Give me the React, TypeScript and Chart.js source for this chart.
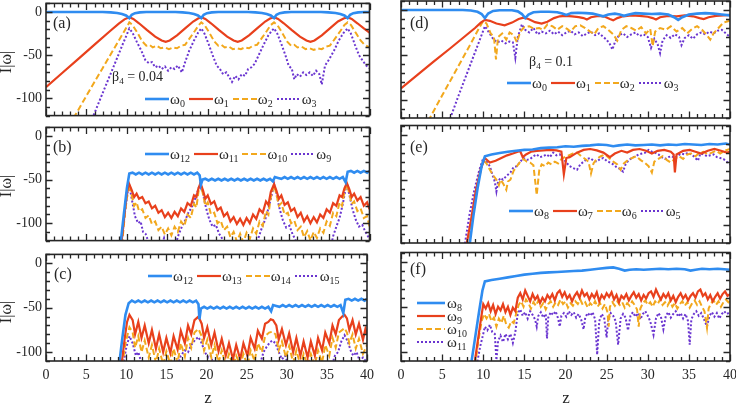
import React, { useEffect, useRef } from 'react';
import { Chart, registerables } from 'chart.js';
Chart.register(...registerables);

type Pt = [number, number];

// ---------- Panel (a): beta4 = 0.04, omega0..omega3 ----------
const a0: Pt[] = [[0,0],[7,0],[8,-0.4],[8.8,-1.2],[9.4,-2.3],[9.9,-4],[10.3,-7],[10.6,-3.2],[11,-1.3],[11.6,-0.4],[12.4,0],[16,0],[16.9,-0.4],[17.7,-1.2],[18.3,-2.3],[18.8,-4],[19.2,-7],[19.5,-3.2],[19.9,-1.3],[20.5,-0.4],[21.3,0],[25,0],[25.9,-0.4],[26.7,-1.2],[27.3,-2.3],[27.8,-4],[28.2,-7],[28.5,-3.2],[28.9,-1.3],[29.5,-0.4],[30.3,0],[34,0],[34.9,-0.4],[35.8,-1.2],[36.4,-2.3],[36.9,-4],[37.3,-7],[37.6,-3.2],[38,-1.3],[38.6,-0.4],[39.4,0],[40,0]];
const a1: Pt[] = [[0,-87],[2,-70.6],[4,-54.2],[6,-37.8],[8,-21.4],[9,-13.5],[9.7,-8.5],[10.3,-6],[10.8,-8],[11.5,-13],[12.5,-21],[13.5,-28.5],[14.3,-33],[14.8,-34.5],[15.3,-33],[16.2,-27],[17.2,-19],[18.2,-11],[18.8,-7.5],[19.2,-6],[19.7,-8],[20.4,-13],[21.4,-21],[22.4,-28.5],[23.2,-33],[23.7,-34.5],[24.2,-33],[25.1,-27],[26.1,-19],[27.1,-11],[27.7,-7.5],[28.2,-6],[28.7,-8],[29.4,-13],[30.4,-21],[31.4,-28.5],[32.2,-33],[32.7,-34.5],[33.2,-33],[34.1,-27],[35.1,-19],[36.1,-11],[36.8,-7.5],[37.3,-6],[37.8,-8],[38.5,-13],[39.3,-19],[40,-24]];
const a2: Pt[] = [[3.4,-123],[5,-97],[7,-65],[8.5,-41],[9.5,-25],[10,-17],[10.3,-12],[10.7,-15],[11.3,-24],[11.9,-34],[12.4,-39],[12.8,-38],[13.2,-41],[13.7,-39],[14.2,-42],[14.7,-41],[15.2,-43],[15.7,-41],[16.2,-42],[16.7,-39],[17.2,-38],[17.8,-30],[18.4,-22],[18.9,-15],[19.2,-12],[19.6,-15],[20.2,-24],[20.8,-34],[21.3,-39],[21.7,-38],[22.1,-41],[22.6,-40],[23.1,-43],[23.6,-42],[24.1,-43],[24.6,-41],[25.1,-42],[25.6,-39],[26.1,-38],[26.7,-30],[27.3,-22],[27.8,-15],[28.2,-12],[28.6,-15],[29.2,-24],[29.8,-34],[30.3,-39],[30.7,-38],[31.1,-41],[31.6,-40],[32.1,-43],[32.6,-42],[33.1,-44],[33.6,-42],[34.1,-43],[34.6,-40],[35.1,-39],[35.8,-30],[36.4,-22],[36.9,-15],[37.3,-12],[37.7,-15],[38.3,-24],[38.9,-33],[39.4,-38],[40,-41]];
const a3: Pt[] = [[5.7,-124],[7,-94],[8.5,-60],[9.5,-37],[10,-26],[10.3,-19],[10.7,-24],[11.2,-34],[11.8,-45],[12.3,-56],[12.7,-59],[13.1,-58],[13.5,-64],[13.9,-62],[14.3,-66],[14.7,-63],[15.1,-68],[15.5,-64],[15.9,-66],[16.3,-62],[16.8,-70],[17.2,-58],[17.7,-45],[18.3,-33],[18.8,-24],[19.2,-19],[19.6,-25],[20.1,-37],[20.6,-50],[21.1,-62],[21.5,-66],[21.9,-72],[22.3,-70],[22.7,-76],[23,-81],[23.4,-74],[23.8,-78],[24.2,-72],[24.6,-74],[25,-66],[25.4,-64],[25.8,-60],[26.3,-50],[26.9,-38],[27.5,-27],[27.9,-22],[28.2,-19],[28.6,-25],[29.1,-37],[29.6,-50],[30,-62],[30.4,-66],[30.7,-78],[31,-72],[31.4,-75],[31.8,-70],[32.2,-73],[32.6,-70],[33,-74],[33.4,-68],[33.8,-72],[34.1,-84],[34.5,-62],[35,-55],[35.6,-45],[36.2,-33],[36.8,-24],[37.3,-19],[37.7,-25],[38.2,-38],[38.7,-50],[39.2,-57],[39.6,-62],[40,-65]];

// ---------- Panel (b): omega12, omega11, omega10, omega9 ----------
const b0: Pt[] = [[9.2,-125],[9.6,-92],[10,-60],[10.3,-43],[10.7,-42],[11.1,-44],[11.5,-42],[11.9,-44],[12.3,-42],[12.7,-44],[13.1,-42],[13.5,-44],[13.9,-42],[14.3,-44],[14.7,-42],[15.1,-44],[15.5,-42],[15.9,-44],[16.3,-42],[16.7,-44],[17.1,-42],[17.5,-44],[17.9,-42],[18.3,-44],[18.7,-42],[19,-45],[19.15,-56],[19.35,-50],[19.7,-49],[20.1,-51],[20.5,-49],[20.9,-51],[21.3,-49],[21.7,-51],[22.1,-49],[22.5,-51],[22.9,-49],[23.3,-51],[23.7,-49],[24.1,-51],[24.5,-49],[24.9,-51],[25.3,-49],[25.7,-51],[26.1,-49],[26.5,-51],[26.9,-49],[27.3,-51],[27.7,-49],[28.05,-52],[28.3,-47],[28.7,-48],[29.1,-49],[29.5,-47],[29.9,-49],[30.3,-47],[30.7,-49],[31.1,-47],[31.5,-49],[31.9,-47],[32.3,-49],[32.7,-47],[33.1,-49],[33.5,-47],[33.9,-49],[34.3,-47],[34.7,-49],[35.1,-47],[35.5,-49],[35.9,-47],[36.3,-49],[36.7,-47],[37.05,-53],[37.3,-41],[37.7,-40],[38.1,-42],[38.5,-40],[38.9,-42],[39.3,-40],[39.7,-42],[40,-40]];
const b1: Pt[] = [[9.3,-125],[9.7,-90],[10,-65],[10.25,-54],[10.6,-62],[10.9,-70],[11.2,-66],[11.5,-72],[11.9,-70],[12.3,-77],[12.7,-75],[13.1,-83],[13.5,-80],[13.9,-88],[14.3,-85],[14.7,-93],[15.1,-88],[15.5,-94],[15.9,-87],[16.3,-92],[16.7,-83],[17.1,-87],[17.5,-77],[17.9,-80],[18.3,-68],[18.6,-70],[18.85,-60],[19.1,-54],[19.4,-62],[19.7,-72],[20,-68],[20.4,-78],[20.8,-75],[21.2,-85],[21.6,-82],[22,-92],[22.4,-88],[22.8,-98],[23.2,-93],[23.6,-101],[24,-95],[24.4,-102],[24.8,-94],[25.2,-100],[25.6,-90],[26,-95],[26.4,-84],[26.8,-88],[27.2,-75],[27.5,-79],[27.8,-64],[28.2,-55],[28.5,-63],[28.8,-72],[29.1,-68],[29.5,-79],[29.9,-76],[30.3,-86],[30.7,-83],[31.1,-93],[31.5,-88],[31.9,-98],[32.3,-92],[32.7,-100],[33.1,-93],[33.5,-99],[33.9,-90],[34.3,-94],[34.7,-84],[35.1,-88],[35.5,-77],[35.9,-80],[36.3,-68],[36.6,-70],[36.9,-60],[37.2,-54],[37.5,-61],[37.8,-70],[38.1,-66],[38.5,-74],[38.9,-70],[39.3,-80],[39.7,-76],[40,-84]];
const b2: Pt[] = [[9.4,-125],[9.8,-85],[10.25,-55],[10.6,-68],[10.9,-80],[11.2,-76],[11.5,-86],[11.9,-84],[12.3,-94],[12.7,-91],[13.1,-101],[13.5,-98],[13.9,-108],[14.3,-104],[14.7,-113],[15.1,-106],[15.5,-114],[15.9,-104],[16.3,-110],[16.7,-98],[17.1,-103],[17.5,-90],[17.9,-94],[18.3,-78],[18.6,-82],[18.85,-64],[19.1,-55],[19.4,-66],[19.7,-80],[20,-76],[20.4,-90],[20.8,-88],[21.2,-100],[21.6,-97],[22,-108],[22.4,-104],[22.8,-116],[23.2,-110],[23.6,-121],[24,-112],[24.4,-122],[24.8,-111],[25.2,-118],[25.6,-106],[26,-112],[26.4,-98],[26.8,-103],[27.2,-86],[27.5,-90],[27.8,-70],[28.2,-56],[28.5,-67],[28.8,-80],[29.1,-77],[29.5,-90],[29.9,-88],[30.3,-100],[30.7,-97],[31.1,-108],[31.5,-104],[31.9,-116],[32.3,-109],[32.7,-120],[33.1,-110],[33.5,-117],[33.9,-106],[34.3,-111],[34.7,-98],[35.1,-103],[35.5,-88],[35.9,-92],[36.3,-76],[36.6,-80],[36.9,-64],[37.2,-55],[37.5,-66],[37.8,-78],[38.1,-75],[38.5,-86],[38.9,-83],[39.3,-94],[39.7,-92],[40,-104]];
const b3: Pt[] = [[9.3,-125],[9.8,-85],[10.25,-54],[10.6,-72],[11,-92],[11.4,-100],[11.7,-98],[12,-110],[12.3,-112],[12.7,-122],[13,-128],[14.3,-125],[14.6,-117],[14.9,-126],[16,-125],[16.4,-113],[16.8,-104],[17.2,-97],[17.6,-88],[18,-82],[18.4,-73],[18.8,-62],[19.1,-54],[19.4,-66],[19.8,-83],[20.2,-96],[20.6,-104],[21,-102],[21.4,-112],[21.8,-118],[22.2,-128],[26,-128],[26.3,-116],[26.7,-105],[27.1,-96],[27.5,-83],[27.9,-68],[28.2,-55],[28.5,-67],[28.9,-84],[29.3,-97],[29.7,-105],[30.1,-103],[30.5,-113],[30.9,-120],[31.3,-128],[35.2,-128],[35.5,-115],[35.9,-104],[36.3,-94],[36.7,-78],[37,-63],[37.2,-54],[37.5,-67],[37.9,-84],[38.3,-96],[38.7,-104],[39.1,-102],[39.5,-110],[40,-118]];

// ---------- Panel (c): omega12, omega13, omega14, omega15 ----------
const c0: Pt[] = [[9.1,-115],[9.5,-85],[9.9,-58],[10.3,-45],[10.7,-42],[11.1,-44],[11.5,-42],[11.9,-44],[12.3,-42],[12.7,-44],[13.1,-42],[13.5,-44],[13.9,-42],[14.3,-44],[14.7,-42],[15.1,-44],[15.5,-42],[15.9,-44],[16.3,-42],[16.7,-44],[17.1,-42],[17.5,-44],[17.9,-42],[18.3,-44],[18.7,-42],[19,-46],[19.12,-63],[19.3,-51],[19.7,-49],[20.1,-51],[20.5,-49],[20.9,-51],[21.3,-49],[21.7,-51],[22.1,-49],[22.5,-51],[22.9,-49],[23.3,-51],[23.7,-49],[24.1,-51],[24.5,-49],[24.9,-51],[25.3,-49],[25.7,-51],[26.1,-49],[26.5,-51],[26.9,-49],[27.3,-51],[27.7,-49],[28.05,-54],[28.3,-47],[28.7,-48],[29.1,-49],[29.5,-47],[29.9,-49],[30.3,-47],[30.7,-49],[31.1,-47],[31.5,-49],[31.9,-47],[32.3,-49],[32.7,-47],[33.1,-49],[33.5,-47],[33.9,-49],[34.3,-47],[34.7,-49],[35.1,-47],[35.5,-49],[35.9,-47],[36.3,-49],[36.7,-47],[37.05,-56],[37.3,-41],[37.7,-40],[38.1,-42],[38.5,-40],[38.9,-42],[39.3,-40],[39.7,-42],[40,-40]];
const c1: Pt[] = [[9.4,-115],[9.8,-85],[10.1,-66],[10.4,-58],[10.8,-64],[11.1,-80],[11.5,-66],[11.9,-84],[12.3,-70],[12.8,-90],[13.2,-75],[13.7,-96],[14.1,-80],[14.6,-100],[15,-84],[15.5,-101],[15.9,-82],[16.4,-97],[16.8,-76],[17.3,-90],[17.7,-70],[18.1,-80],[18.5,-64],[19,-60],[19.4,-68],[19.7,-84],[20.1,-72],[20.6,-92],[21,-78],[21.5,-99],[21.9,-85],[22.4,-104],[22.8,-90],[23.3,-108],[23.7,-92],[24.2,-108],[24.6,-90],[25.1,-104],[25.5,-84],[26,-96],[26.4,-76],[26.9,-85],[27.3,-68],[27.7,-66],[28,-63],[28.3,-64],[28.7,-70],[29,-86],[29.4,-74],[29.9,-92],[30.3,-79],[30.8,-100],[31.2,-84],[31.7,-104],[32.1,-88],[32.6,-106],[33,-88],[33.5,-104],[33.9,-84],[34.4,-98],[34.8,-78],[35.3,-90],[35.7,-70],[36.1,-80],[36.5,-64],[36.9,-60],[37.2,-58],[37.5,-62],[37.8,-75],[38.2,-64],[38.6,-80],[39,-68],[39.5,-86],[39.8,-74],[40,-80]];
const c2: Pt[] = [[9.5,-115],[9.9,-90],[10.4,-72],[10.8,-78],[11.1,-95],[11.5,-82],[11.9,-100],[12.3,-87],[12.8,-106],[13.2,-92],[13.7,-112],[14.1,-96],[14.6,-114],[15,-99],[15.5,-114],[15.9,-96],[16.4,-112],[16.8,-90],[17.3,-105],[17.7,-84],[18.1,-95],[18.5,-78],[19,-74],[19.4,-82],[19.7,-98],[20.1,-86],[20.6,-106],[21,-92],[21.5,-112],[21.9,-98],[22.4,-115],[22.8,-102],[23.3,-115],[23.7,-104],[24.2,-115],[24.6,-102],[25.1,-115],[25.5,-98],[26,-110],[26.4,-90],[26.9,-100],[27.3,-82],[27.8,-78],[28.2,-77],[28.6,-80],[29,-98],[29.4,-88],[29.9,-106],[30.3,-93],[30.8,-112],[31.2,-98],[31.7,-115],[32.1,-102],[32.6,-115],[33,-102],[33.5,-115],[33.9,-98],[34.4,-112],[34.8,-92],[35.3,-104],[35.7,-84],[36.1,-95],[36.5,-78],[37.2,-73],[37.5,-78],[37.8,-90],[38.2,-80],[38.6,-96],[39,-85],[39.5,-102],[40,-92]];
const c3: Pt[] = [[9.6,-115],[10,-95],[10.4,-82],[10.8,-90],[11.2,-104],[11.5,-100],[11.9,-112],[12.2,-118],[16.3,-118],[16.8,-104],[17.3,-98],[17.7,-100],[18.1,-92],[18.6,-86],[19,-83],[19.4,-90],[19.8,-100],[20.2,-106],[20.5,-104],[21,-116],[26.6,-116],[27.1,-100],[27.5,-94],[27.9,-89],[28.2,-87],[28.6,-90],[29,-100],[29.4,-108],[29.8,-104],[30.2,-115],[35.6,-116],[36,-104],[36.4,-100],[36.8,-88],[37.2,-81],[37.6,-88],[38,-99],[38.3,-104],[38.7,-100],[39.1,-110],[39.5,-106],[40,-112]];

// ---------- Panel (d): beta4 = 0.1, omega0..omega3 ----------
const d0: Pt[] = [[0,0],[7.5,0],[8.5,-0.5],[9.3,-2],[9.8,-4.5],[10.2,-9],[10.6,-4],[11.2,-1],[12,-0.3],[13.5,-0.3],[14.2,-1.5],[14.7,-4.5],[15.1,-9],[15.5,-5],[16.1,-2.5],[17,-2],[18,-2],[19,-2.5],[19.6,-4],[20.1,-5.5],[20.7,-3.5],[21.5,-3],[22.5,-3.5],[23.3,-4],[24,-5.5],[24.6,-7],[25.2,-5],[26,-4],[26.6,-5],[27.1,-6.5],[27.7,-5],[28.5,-3.5],[29.5,-4],[30.5,-4.5],[31.5,-4],[32.5,-5],[33.2,-8],[33.7,-11],[34.2,-8],[35,-5],[36,-4],[37,-3.5],[38,-4],[39,-5],[40,-6]];
const d1: Pt[] = [[0,-87],[2,-72],[4,-57],[6,-42.5],[8,-27.5],[9,-20],[9.7,-14],[10.2,-11],[10.8,-12],[11.6,-15],[12.6,-17],[13.5,-14],[14.3,-10],[14.9,-8.5],[15.5,-10],[16.3,-13.5],[17.1,-15],[17.8,-13],[18.6,-9],[19.3,-7],[20,-6.5],[20.8,-7],[21.6,-8],[22.2,-9],[22.6,-10.5],[23.1,-8],[24,-6.5],[24.8,-7.5],[25.4,-10],[25.8,-11.5],[26.3,-9],[27,-7],[28,-6],[29,-6.5],[30,-7.5],[30.6,-9],[31,-10.5],[31.5,-8],[32.5,-6.5],[33.5,-7],[34.5,-6],[35.5,-7],[36.3,-9],[36.8,-10],[37.4,-8],[38.3,-6.5],[39.2,-6],[40,-5.5]];
const d2: Pt[] = [[3.3,-123.5],[5,-95],[7,-62],[8.5,-37],[9.5,-20],[10,-12],[10.4,-15],[10.9,-26],[11.3,-30],[11.55,-55],[11.8,-30],[12.3,-26],[12.8,-33],[13.2,-25],[13.7,-28],[14.1,-36],[14.5,-24],[15,-19],[15.6,-18],[16.2,-21],[16.8,-20],[17.3,-22],[17.8,-16],[18.4,-18],[19,-22],[19.6,-18],[20.2,-21],[20.6,-24],[21.2,-18],[21.8,-17],[22.4,-20],[23,-24],[23.5,-27],[24,-20],[24.6,-18],[25.2,-22],[25.8,-27],[26.3,-34],[26.8,-22],[27.4,-18],[28,-20],[28.6,-23],[29.2,-19],[29.8,-26],[30.3,-21],[30.6,-40],[30.9,-24],[31.5,-20],[32.2,-22],[32.8,-18],[33.5,-24],[34.2,-20],[34.8,-26],[35.4,-21],[36,-18],[36.6,-22],[37.2,-28],[37.6,-33],[38,-26],[38.6,-20],[39.2,-14],[40,-12]];
const d3: Pt[] = [[5.8,-125],[7,-95],[8.5,-59],[9.5,-35],[10.2,-18],[10.7,-25],[11.2,-32],[11.7,-36],[12.2,-34],[12.7,-37],[13.2,-35],[13.6,-36],[13.9,-53],[14.2,-30],[14.7,-16],[15.1,-22],[15.6,-25],[16.1,-20],[16.6,-27],[17.1,-24],[17.6,-26],[18.1,-23],[18.6,-27],[19.1,-24],[19.6,-28],[20.1,-25],[20.6,-23],[21.1,-27],[21.6,-25],[22.1,-29],[22.6,-26],[23.1,-24],[23.6,-28],[24.1,-26],[24.6,-30],[25,-33],[25.4,-38],[25.7,-44],[26,-36],[26.5,-28],[27,-26],[27.5,-30],[28,-27],[28.5,-25],[29,-29],[29.5,-27],[30,-30],[30.4,-42],[30.8,-32],[31.2,-38],[31.5,-48],[31.8,-34],[32.3,-28],[32.8,-31],[33.3,-27],[33.8,-30],[34.1,-39],[34.5,-31],[35,-28],[35.5,-32],[36,-27],[36.5,-25],[37,-27],[37.5,-24],[38,-26],[38.5,-23],[39,-22],[39.5,-26],[40,-30]];

// ---------- Panel (e): omega8, omega7, omega6, omega5 ----------
const e0: Pt[] = [[8.3,-125],[8.8,-90],[9.3,-60],[9.8,-35],[10.2,-24],[11,-22],[12,-20.5],[13,-19],[14,-18],[15,-17],[16,-16.5],[17,-15],[18,-14.5],[19,-14],[20,-13],[21,-13.5],[22,-12.5],[23,-12],[24,-11],[25,-11.5],[25.8,-13],[26.5,-12],[27.5,-11],[28.5,-12],[29.5,-11.5],[30.5,-11],[31.5,-12],[32.5,-11],[33.5,-11.5],[34.5,-10.5],[35.5,-11],[36.5,-11.5],[37.5,-10.5],[38.5,-11],[39.5,-10],[40,-11]];
const e1: Pt[] = [[7.9,-125],[8.5,-95],[9.1,-62],[9.7,-38],[10.2,-26],[10.8,-31],[11.5,-29],[12.2,-26],[12.9,-23],[13.6,-21],[14.2,-19],[14.5,-18.5],[14.8,-25],[15.2,-22],[15.8,-19],[16.5,-18],[17.3,-17.5],[18.1,-17],[18.9,-17.5],[19.5,-19],[19.8,-44],[20.1,-26],[20.5,-25],[21.4,-20],[22.2,-17],[23,-16],[23.8,-17.5],[24.6,-20],[25.4,-25],[26,-21],[26.8,-18],[27.5,-20],[28.2,-17],[29,-16],[29.8,-18],[30.5,-21],[31.2,-18],[32,-17],[32.8,-19],[33.15,-22],[33.3,-42],[33.5,-22],[34.3,-18],[35.1,-17],[35.8,-19],[36.5,-21],[37.3,-18],[38.1,-16],[38.9,-18],[39.6,-20],[40,-19]];
const e2: Pt[] = [[8.2,-125],[8.8,-85],[9.4,-52],[10,-28],[10.4,-32],[10.8,-39],[11.2,-45],[11.6,-50],[11.9,-56],[12.1,-50],[12.4,-54],[12.8,-61],[13,-52],[13.3,-50],[13.7,-40],[14.1,-35],[14.5,-30],[14.9,-27],[15.3,-30],[15.7,-31],[16.1,-34],[16.5,-67],[16.8,-40],[17.1,-33],[17.5,-35],[17.9,-31],[18.3,-33],[18.7,-30],[19.1,-32],[19.5,-27],[19.9,-25],[20.4,-23],[20.9,-21],[21.4,-20],[21.9,-24],[22.4,-27],[22.8,-30],[23.1,-43],[23.4,-32],[23.8,-27],[24.3,-24],[24.8,-22],[25.3,-26],[25.8,-30],[26.3,-33],[26.7,-39],[27.1,-32],[27.6,-28],[28.1,-26],[28.6,-24],[29.1,-28],[29.6,-31],[30.1,-35],[30.5,-42],[30.8,-30],[31.3,-27],[31.8,-24],[32.3,-28],[32.8,-31],[33.3,-27],[33.8,-24],[34.3,-27],[34.8,-22],[35.3,-21],[35.8,-24],[36.3,-20],[36.8,-19],[37.3,-22],[37.8,-20],[38.3,-18],[38.8,-21],[39.3,-18],[40,-16]];
const e3: Pt[] = [[7.7,-125],[8.3,-90],[8.9,-62],[9.5,-40],[10,-26],[10.4,-30],[10.8,-35],[11.1,-44],[11.4,-52],[11.6,-63],[11.8,-52],[12.1,-48],[12.4,-50],[12.8,-46],[13.3,-42],[13.7,-36],[14.1,-35],[14.5,-30],[14.9,-26],[15.3,-28],[15.7,-27],[16.1,-24],[16.5,-22],[16.9,-25],[17.3,-24],[17.7,-22],[18.1,-25],[18.5,-20],[18.9,-23],[19.3,-22],[19.7,-26],[20.1,-31],[20.5,-35],[20.9,-37],[21.4,-39],[21.8,-33],[22.2,-30],[22.6,-27],[23,-26],[23.4,-29],[23.8,-30],[24.2,-27],[24.6,-26],[25,-29],[25.4,-31],[25.8,-33],[26.2,-36],[26.6,-38],[27,-41],[27.3,-33],[27.7,-28],[28.1,-26],[28.5,-24],[28.9,-22],[29.3,-21],[29.7,-20],[30.1,-17],[30.5,-19],[30.9,-20],[31.3,-22],[31.7,-25],[32.1,-27],[32.5,-25],[32.9,-24],[33.3,-26],[33.7,-23],[34.1,-21],[34.5,-22],[34.9,-20],[35.3,-22],[35.7,-25],[36.1,-29],[36.4,-21],[36.8,-22],[37.2,-24],[37.6,-23],[38,-22],[38.4,-25],[38.8,-26],[39.2,-27],[39.6,-30],[40,-33]];

// ---------- Panel (f): omega8, omega9, omega10, omega11 ----------
const f0: Pt[] = [[8.5,-115],[9,-85],[9.5,-55],[9.9,-32],[10.2,-22],[11,-20.5],[12,-19],[13,-17.5],[14,-16],[15,-14.5],[16,-13.5],[17,-12.5],[18,-12],[19,-11.5],[20,-11],[21,-10.5],[22,-10],[23,-9],[24,-8],[25,-7],[25.8,-6.5],[26.5,-8],[27.2,-10],[27.8,-9],[28.6,-8.5],[29.5,-9],[30.5,-8.5],[31.5,-8],[32.5,-8.5],[33.5,-8],[34.5,-8.5],[35.2,-10],[35.8,-9],[36.6,-8],[37.5,-8.5],[38.5,-8],[39.3,-8.5],[40,-9]];
const f1: Pt[] = [[8.9,-115],[9.3,-90],[9.7,-65],[10,-47],[10.3,-52],[10.6,-46],[10.9,-55],[11.2,-48],[11.5,-58],[11.8,-50],[12.1,-54],[12.4,-47],[12.7,-56],[13,-50],[13.3,-59],[13.6,-51],[13.9,-55],[14.2,-40],[14.5,-35],[14.8,-42],[15.1,-32],[15.4,-38],[15.7,-44],[16,-36],[16.3,-42],[16.6,-38],[16.9,-46],[17.2,-40],[17.5,-44],[17.8,-37],[18.1,-41],[18.4,-36],[18.7,-43],[19,-35],[19.3,-32],[19.6,-39],[19.9,-34],[20.2,-41],[20.5,-37],[20.8,-44],[21.1,-38],[21.4,-34],[21.7,-40],[22,-32],[22.3,-38],[22.6,-35],[22.9,-42],[23.2,-36],[23.5,-40],[23.8,-34],[24.1,-44],[24.4,-37],[24.7,-41],[25,-35],[25.3,-39],[25.6,-34],[25.9,-42],[26.2,-37],[26.5,-45],[26.8,-38],[27.1,-41],[27.4,-36],[27.7,-43],[28,-38],[28.3,-34],[28.6,-40],[28.9,-36],[29.2,-43],[29.5,-37],[29.8,-41],[30.1,-35],[30.4,-33],[30.7,-39],[31,-31],[31.3,-37],[31.6,-42],[31.9,-36],[32.2,-40],[32.5,-35],[32.8,-43],[33.1,-38],[33.4,-45],[33.7,-39],[34,-35],[34.3,-41],[34.6,-37],[34.9,-43],[35.2,-38],[35.5,-35],[35.8,-40],[36.1,-33],[36.4,-31],[36.7,-38],[37,-35],[37.3,-42],[37.6,-37],[37.9,-44],[38.2,-39],[38.5,-35],[38.8,-41],[39.1,-36],[39.4,-33],[39.7,-38],[40,-36]];
const f2: Pt[] = [[9,-115],[9.4,-88],[9.8,-66],[10.1,-58],[10.4,-63],[10.7,-58],[11,-66],[11.3,-62],[11.6,-72],[11.9,-63],[12.2,-68],[12.5,-60],[12.8,-70],[13.1,-73],[13.4,-66],[13.7,-68],[14,-58],[14.3,-48],[14.6,-44],[14.9,-50],[15.2,-42],[15.5,-46],[15.8,-52],[16.1,-45],[16.4,-49],[16.7,-43],[17,-50],[17.3,-46],[17.6,-53],[17.9,-47],[18.2,-44],[18.5,-50],[18.8,-45],[19.1,-48],[19.4,-42],[19.7,-47],[20,-44],[20.3,-51],[20.6,-46],[20.9,-49],[21.2,-44],[21.5,-47],[21.8,-42],[22.1,-48],[22.4,-45],[22.7,-51],[23,-46],[23.3,-49],[23.6,-44],[23.9,-50],[24.2,-46],[24.5,-52],[24.8,-47],[25.1,-56],[25.25,-72],[25.4,-50],[25.7,-45],[26,-49],[26.3,-44],[26.6,-48],[26.9,-45],[27.2,-51],[27.5,-46],[27.8,-49],[28.1,-44],[28.4,-48],[28.7,-53],[28.9,-72],[29.1,-52],[29.4,-46],[29.7,-43],[30,-48],[30.3,-45],[30.6,-50],[30.9,-44],[31.2,-47],[31.5,-42],[31.8,-48],[32.1,-45],[32.4,-49],[32.7,-44],[33,-50],[33.3,-46],[33.6,-52],[33.9,-47],[34.2,-44],[34.5,-49],[34.8,-45],[35.1,-51],[35.4,-46],[35.7,-43],[36,-48],[36.3,-44],[36.6,-50],[36.9,-55],[37.2,-73],[37.4,-52],[37.7,-46],[38,-43],[38.3,-48],[38.6,-44],[38.9,-50],[39.2,-45],[39.5,-42],[39.8,-45],[40,-43]];
const f3: Pt[] = [[9.2,-115],[9.6,-95],[10,-80],[10.2,-72],[10.5,-76],[10.8,-70],[11.1,-78],[11.4,-80],[11.6,-109],[11.8,-88],[12.1,-82],[12.4,-89],[12.7,-80],[13,-86],[13.3,-80],[13.6,-90],[13.9,-78],[14.2,-57],[14.5,-53],[14.8,-60],[15.1,-56],[15.4,-63],[15.7,-55],[16,-59],[16.3,-64],[16.5,-72],[16.7,-60],[17,-56],[17.3,-62],[17.6,-58],[17.75,-85],[17.9,-62],[18.2,-56],[18.5,-59],[18.8,-55],[19.1,-63],[19.3,-72],[19.5,-60],[19.8,-57],[20.1,-61],[20.4,-55],[20.7,-59],[21,-56],[21.3,-62],[21.6,-58],[21.9,-64],[22.2,-75],[22.4,-62],[22.7,-57],[23,-60],[23.3,-56],[23.6,-64],[23.85,-103],[24.1,-66],[24.4,-58],[24.7,-62],[25,-84],[25.2,-64],[25.5,-57],[25.8,-60],[26.1,-66],[26.4,-92],[26.7,-63],[27,-58],[27.3,-62],[27.6,-76],[27.9,-60],[28.2,-56],[28.5,-61],[28.8,-57],[29.1,-64],[29.4,-58],[29.7,-55],[30,-60],[30.3,-66],[30.7,-81],[31,-63],[31.3,-57],[31.6,-61],[31.9,-75],[32.2,-60],[32.5,-56],[32.8,-62],[33.1,-58],[33.4,-55],[33.7,-61],[34,-57],[34.3,-63],[34.6,-58],[34.9,-66],[35.1,-92],[35.3,-64],[35.6,-58],[35.9,-55],[36.2,-60],[36.5,-57],[36.8,-63],[37.2,-72],[37.5,-60],[37.8,-56],[38.1,-61],[38.4,-57],[38.7,-63],[39,-58],[39.3,-55],[39.6,-58],[40,-56]];

// ---------- labels ----------
const xTickLabels = [0, 5, 10, 15, 20, 25, 30, 35, 40];
const yTickLabels = [0, -50, -100];
const legendA = ['0', '1', '2', '3'];
const legendB = ['12', '11', '10', '9'];
const legendC = ['12', '13', '14', '15'];
const legendD = ['0', '1', '2', '3'];
const legendE = ['8', '7', '6', '5'];
const legendF = ['8', '9', '10', '11'];

const FONT = "'Liberation Serif', 'Times New Roman', serif";
const INK = '#262626';
const BLUE = '#2f8cf0';
const RED = '#e8401c';
const ORANGE = '#f2a81d';
const PURPLE = '#6a35d0';
const STYLES = [
  { color: BLUE, width: 2.6, dash: [] as number[] },
  { color: RED, width: 2.2, dash: [] as number[] },
  { color: ORANGE, width: 2.0, dash: [6, 3] },
  { color: PURPLE, width: 2.0, dash: [2, 2] },
];

const frameTicks = {
  id: 'frameTicks',
  afterDraw(chart: any) {
    const ctx = chart.ctx;
    const area = chart.chartArea;
    const left = area.left, right = area.right, top = area.top, bottom = area.bottom;
    const xs = chart.scales['x'];
    const ys = chart.scales['y'];
    if (!xs || !ys) return;
    ctx.save();
    ctx.setLineDash([]);
    ctx.strokeStyle = INK;
    ctx.lineWidth = 1.3;
    ctx.beginPath();
    for (let v = 0; v <= 40; v += 1) {
      const px = Math.round(xs.getPixelForValue(v)) + 0.5;
      const len = v % 5 === 0 ? 6.5 : 4;
      ctx.moveTo(px, bottom); ctx.lineTo(px, bottom - len);
      ctx.moveTo(px, top); ctx.lineTo(px, top + len);
    }
    const ymin = ys.min, ymax = ys.max;
    for (let v = Math.ceil(ymin / 10) * 10; v <= ymax; v += 10) {
      const py = Math.round(ys.getPixelForValue(v)) + 0.5;
      const len = v % 50 === 0 ? 6.5 : 4;
      ctx.moveTo(left, py); ctx.lineTo(left + len, py);
      ctx.moveTo(right, py); ctx.lineTo(right - len, py);
    }
    ctx.stroke();
    ctx.lineWidth = 1.6;
    ctx.strokeRect(left, top, right - left, bottom - top);
    ctx.restore();
  },
};
Chart.register(frameTicks as any);

type PanelCfg = {
  series: Pt[][];
  ymin: number;
  ymax: number;
  cl: number; ct: number; cw: number; ch: number;
  pad: { left: number; right: number; top: number; bottom: number };
  yLabels: boolean;
  xLabels: boolean;
};

function Panel({ cfg }: { cfg: PanelCfg }) {
  const ref = useRef<HTMLCanvasElement>(null);
  useEffect(() => {
    const canvas = ref.current;
    if (!canvas) return;
    const chart = new Chart(canvas, {
      type: 'line',
      data: {
        datasets: cfg.series.map((s, i) => ({
          data: s.map(([x, y]) => ({ x, y })),
          borderColor: STYLES[i].color,
          borderWidth: STYLES[i].width,
          borderDash: STYLES[i].dash,
          pointRadius: 0,
          tension: 0,
          fill: false,
        })),
      },
      options: {
        animation: false,
        responsive: false,
        maintainAspectRatio: false,
        events: [],
        layout: { padding: cfg.pad },
        plugins: { legend: { display: false }, tooltip: { enabled: false } },
        scales: {
          x: {
            type: 'linear',
            min: 0,
            max: 40,
            display: cfg.xLabels,
            grid: { display: false, drawTicks: false },
            border: { display: false },
            afterBuildTicks: (s: any) => { s.ticks = xTickLabels.map((v) => ({ value: v })); },
            afterFit: (s: any) => { s.height = cfg.xLabels ? 26 : 0; },
            ticks: {
              padding: 6,
              maxRotation: 0,
              autoSkip: false,
              color: INK,
              font: { family: FONT, size: 14 },
              callback: (v: any) => String(v),
            },
          },
          y: {
            type: 'linear',
            min: cfg.ymin,
            max: cfg.ymax,
            display: cfg.yLabels,
            grid: { display: false, drawTicks: false },
            border: { display: false },
            afterBuildTicks: (s: any) => { s.ticks = yTickLabels.map((v) => ({ value: v })); },
            afterFit: (s: any) => { s.width = cfg.yLabels ? 46 : 0; },
            ticks: {
              padding: 4,
              autoSkip: false,
              color: INK,
              font: { family: FONT, size: 14 },
              callback: (v: any) => String(v),
            },
          },
        },
      },
    } as any);
    return () => chart.destroy();
  }, [cfg]);
  return (
    <canvas
      ref={ref}
      width={cfg.cw}
      height={cfg.ch}
      style={{ position: 'absolute', left: cfg.cl, top: cfg.ct, width: cfg.cw, height: cfg.ch }}
    />
  );
}

// canvases overlap; chart areas: left col x 46..369.5, right col x 401..730
const LEFT = { cl: 0, cw: 380, padL: 0, padR: 10.5 };
const RIGHT = { cl: 386, cw: 360, padL: 15, padR: 16 };
// rows: a/d 1..118, b/e 125.5..243, c/f 252.5..361
const ROW1 = { ct: -9, ch: 137, padT: 10, padB: 10 };
const ROW2 = { ct: 115, ch: 138, padT: 10.5, padB: 10 };
const ROW3 = { ct: 242, ch: 155, padT: 10.5, padB: 10 };

function mk(series: Pt[][], col: typeof LEFT, row: typeof ROW1, ymin: number, yLabels: boolean, xLabels: boolean): PanelCfg {
  return {
    series, ymin, ymax: 10,
    cl: col.cl, ct: row.ct, cw: col.cw, ch: row.ch,
    pad: { left: col.padL, right: col.padR, top: row.padT, bottom: row.padB },
    yLabels, xLabels,
  };
}

const PANELS: PanelCfg[] = [
  mk([a0, a1, a2, a3], LEFT, ROW1, -120, true, false),
  mk([b0, b1, b2, b3], LEFT, ROW2, -120, true, false),
  mk([c0, c1, c2, c3], LEFT, ROW3, -110, true, true),
  mk([d0, d1, d2, d3], RIGHT, ROW1, -120, false, false),
  mk([e0, e1, e2, e3], RIGHT, ROW2, -120, false, false),
  mk([f0, f1, f2, f3], RIGHT, ROW3, -110, false, true),
];

const textBase: React.CSSProperties = {
  position: 'absolute',
  fontFamily: FONT,
  color: INK,
  whiteSpace: 'nowrap',
  lineHeight: 1,
};

function Sample({ i, w }: { i: number; w: number }) {
  const st = STYLES[i];
  return (
    <svg width={w} height={8} style={{ display: 'block' }}>
      <line x1={0} y1={4} x2={w} y2={4} stroke={st.color} strokeWidth={st.width}
        strokeDasharray={st.dash.length ? st.dash.join(' ') : undefined} />
    </svg>
  );
}

function Omega({ sub }: { sub: string }) {
  return (
    <span style={{ fontSize: 15 }}>
      ω<span style={{ fontSize: 10, position: 'relative', top: 3 }}>{sub}</span>
    </span>
  );
}

function HLegend({ left, cy, subs }: { left: number; cy: number; subs: string[] }) {
  return (
    <div style={{ ...textBase, left, top: cy - 8, height: 16, display: 'flex', alignItems: 'center' }}>
      {subs.map((s, i) => (
        <div key={i} style={{ display: 'flex', alignItems: 'center', marginRight: 4 }}>
          <Sample i={i} w={24} />
          <div style={{ marginLeft: 1 }}><Omega sub={s} /></div>
        </div>
      ))}
    </div>
  );
}

function VLegend({ left, top, subs }: { left: number; top: number; subs: string[] }) {
  return (
    <div style={{ ...textBase, left, top }}>
      {subs.map((s, i) => (
        <div key={i} style={{ display: 'flex', alignItems: 'center', height: 13 }}>
          <Sample i={i} w={28} />
          <div style={{ marginLeft: 2 }}><Omega sub={s} /></div>
        </div>
      ))}
    </div>
  );
}

function YTitle({ cy }: { cy: number }) {
  return (
    <div style={{ ...textBase, left: 6, top: cy, fontSize: 16, transform: 'translate(-50%, -50%) rotate(-90deg)' }}>
      I|ω|
    </div>
  );
}

function PanelLabel({ left, cy, t }: { left: number; cy: number; t: string }) {
  return <div style={{ ...textBase, left, top: cy - 8, fontSize: 16 }}>{t}</div>;
}

export default function App() {
  return (
    <div style={{ position: 'fixed', left: 0, top: 0, width: 736, height: 403, background: '#fff', overflow: 'hidden' }}>
      {PANELS.map((p, i) => <Panel key={i} cfg={p} />)}
      <YTitle cy={62} />
      <YTitle cy={186} />
      <YTitle cy={312} />
      <PanelLabel left={53} cy={23} t="(a)" />
      <PanelLabel left={53} cy={147} t="(b)" />
      <PanelLabel left={54} cy={274} t="(c)" />
      <PanelLabel left={410} cy={23} t="(d)" />
      <PanelLabel left={410} cy={147} t="(e)" />
      <PanelLabel left={410} cy={269} t="(f)" />
      <div style={{ ...textBase, left: 112, top: 70, fontSize: 14 }}>
        β<span style={{ fontSize: 9, position: 'relative', top: 3 }}>4</span> = 0.04
      </div>
      <div style={{ ...textBase, left: 529, top: 55, fontSize: 14 }}>
        β<span style={{ fontSize: 9, position: 'relative', top: 3 }}>4</span> = 0.1
      </div>
      <HLegend left={145} cy={99} subs={legendA} />
      <HLegend left={145} cy={154} subs={legendB} />
      <HLegend left={148} cy={276} subs={legendC} />
      <HLegend left={507} cy={83} subs={legendD} />
      <HLegend left={509} cy={211} subs={legendE} />
      <VLegend left={417} top={296} subs={legendF} />
      <div style={{ ...textBase, left: 208, top: 389, fontSize: 17, transform: 'translateX(-50%)' }}>z</div>
      <div style={{ ...textBase, left: 566, top: 389, fontSize: 17, transform: 'translateX(-50%)' }}>z</div>
    </div>
  );
}
